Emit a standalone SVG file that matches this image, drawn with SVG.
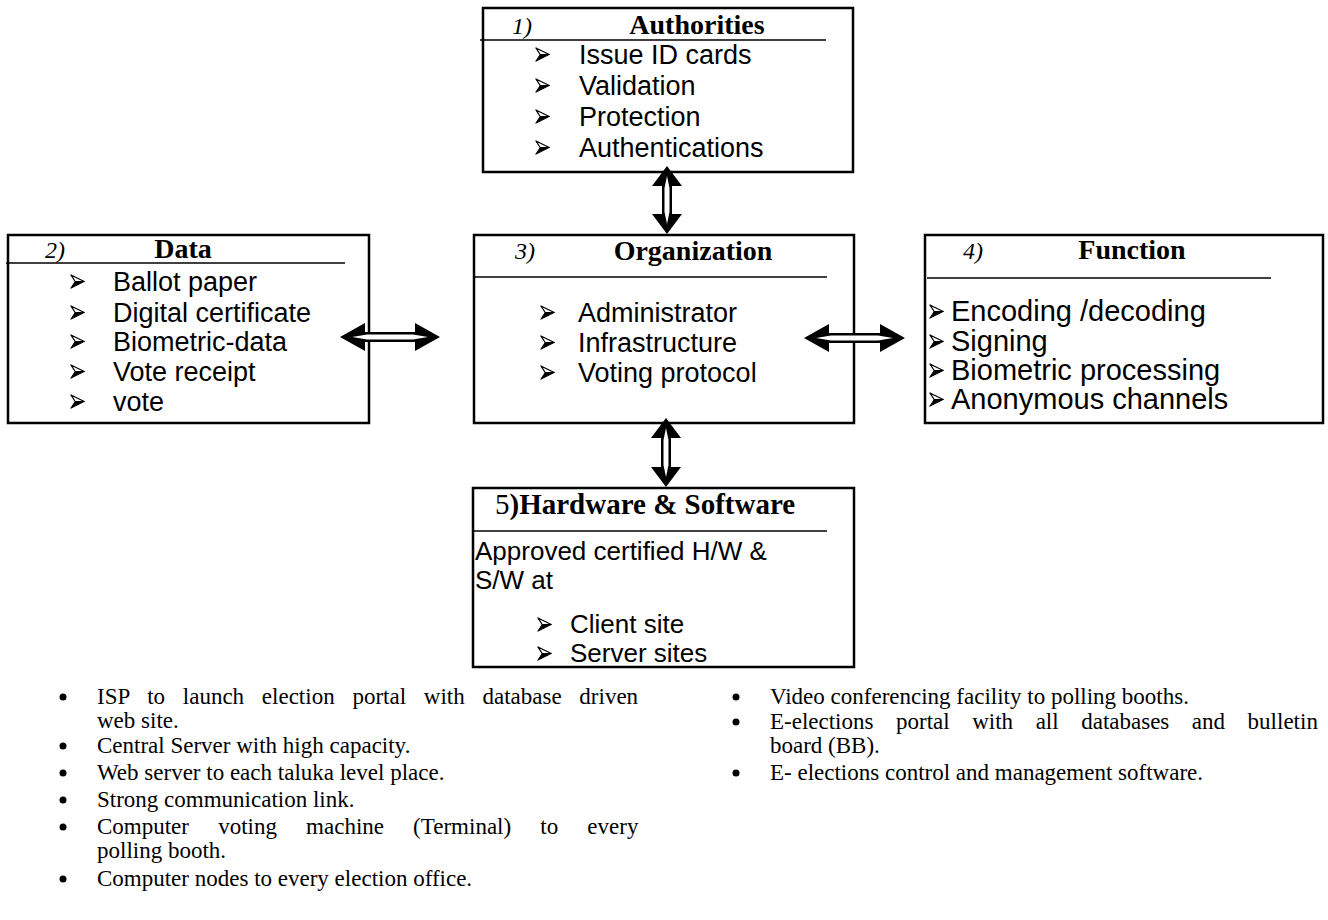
<svg xmlns="http://www.w3.org/2000/svg" width="1328" height="920" viewBox="0 0 1328 920">
  <style>
    .box { fill: #fff; stroke: #000; stroke-width: 2.5; }
    .rule { stroke: #000; stroke-width: 1.5; }
    .num { font-family: "Liberation Serif", "Times New Roman", serif; font-style: italic; font-size: 24px; fill: #000; }
    .title { font-family: "Liberation Serif", "Times New Roman", serif; font-weight: bold; font-size: 28px; fill: #000; }
    .item { font-family: "Liberation Sans", Arial, sans-serif; font-size: 27px; fill: #000; }
    .item-sm { font-family: "Liberation Sans", Arial, sans-serif; font-size: 26px; fill: #000; }
    .item-lg { font-family: "Liberation Sans", Arial, sans-serif; font-size: 29px; fill: #000; }
    .note { font-family: "Liberation Serif", "Times New Roman", serif; font-size: 23px; fill: #000; }
    .dot { fill: #000; }
    .arr { fill: #000; }
    .arr-in { fill: #fff; }
  </style>
  <defs>
    <!-- arrowhead list marker: open upper half, solid lower half -->
    <symbol id="ah" viewBox="0 0 16 16">
      <path d="M1,1 L15.2,8 L5.5,8 Z" fill="#fff" stroke="#000" stroke-width="1.3" stroke-linejoin="round"/>
      <path d="M0.8,15.2 L15.2,8 L5.5,8 Z" fill="#000" stroke="#000" stroke-width="1" stroke-linejoin="round"/>
    </symbol>
  </defs>

  <!-- 1) Authorities -->
  <g id="authorities">
    <rect class="box" x="483" y="8" width="370" height="164"/>
    <line class="rule" x1="480" y1="40" x2="826" y2="40"/>
    <text class="num" x="512" y="34">1)</text>
    <text class="title" x="697" y="34" text-anchor="middle">Authorities</text>
    <use href="#ah" x="535" y="47" width="15" height="15"/><text class="item" x="579" y="64">Issue ID cards</text>
    <use href="#ah" x="535" y="78" width="15" height="15"/><text class="item" x="579" y="95">Validation</text>
    <use href="#ah" x="535" y="109" width="15" height="15"/><text class="item" x="579" y="126">Protection</text>
    <use href="#ah" x="535" y="140" width="15" height="15"/><text class="item" x="579" y="157">Authentications</text>
  </g>

  <!-- 2) Data -->
  <g id="data">
    <rect class="box" x="8" y="235" width="361" height="188"/>
    <line class="rule" x1="6" y1="263" x2="345" y2="263"/>
    <text class="num" x="45" y="258">2)</text>
    <text class="title" x="183" y="258" text-anchor="middle">Data</text>
    <use href="#ah" x="70" y="274" width="15" height="15"/><text class="item" x="113" y="291">Ballot paper</text>
    <use href="#ah" x="70" y="305" width="15" height="15"/><text class="item" x="113" y="322">Digital certificate</text>
    <use href="#ah" x="70" y="334" width="15" height="15"/><text class="item" x="113" y="351">Biometric-data</text>
    <use href="#ah" x="70" y="364" width="15" height="15"/><text class="item" x="113" y="381">Vote receipt</text>
    <use href="#ah" x="70" y="394" width="15" height="15"/><text class="item" x="113" y="411">vote</text>
  </g>

  <!-- 3) Organization -->
  <g id="organization">
    <rect class="box" x="474" y="235" width="380" height="188"/>
    <line class="rule" x1="474" y1="277" x2="827" y2="277"/>
    <text class="num" x="515" y="259">3)</text>
    <text class="title" x="693" y="260" text-anchor="middle">Organization</text>
    <use href="#ah" x="540" y="305" width="15" height="15"/><text class="item" x="578" y="322">Administrator</text>
    <use href="#ah" x="540" y="335" width="15" height="15"/><text class="item" x="578" y="352">Infrastructure</text>
    <use href="#ah" x="540" y="365" width="15" height="15"/><text class="item" x="578" y="382">Voting protocol</text>
  </g>

  <!-- 4) Function -->
  <g id="function">
    <rect class="box" x="925" y="235" width="398" height="188"/>
    <line class="rule" x1="927" y1="278" x2="1271" y2="278"/>
    <text class="num" x="963" y="259">4)</text>
    <text class="title" x="1132" y="259" text-anchor="middle">Function</text>
    <use href="#ah" x="929" y="304" width="15" height="15"/><text class="item-lg" x="951" y="321">Encoding /decoding</text>
    <use href="#ah" x="929" y="334" width="15" height="15"/><text class="item-lg" x="951" y="351">Signing</text>
    <use href="#ah" x="929" y="363" width="15" height="15"/><text class="item-lg" x="951" y="380">Biometric processing</text>
    <use href="#ah" x="929" y="392" width="15" height="15"/><text class="item-lg" x="951" y="409">Anonymous channels</text>
  </g>

  <!-- 5) Hardware & Software -->
  <g id="hardware-software">
    <rect class="box" x="473" y="488" width="381" height="179"/>
    <line class="rule" x1="473" y1="531" x2="827" y2="531"/>
    <text x="495" y="514"><tspan class="note" style="font-size:29px">5</tspan><tspan class="title" style="font-size:29px">)Hardware &amp; Software</tspan></text>
    <text class="item-sm" x="475" y="560">Approved certified H/W &amp;</text>
    <text class="item-sm" x="475" y="589">S/W at</text>
    <use href="#ah" x="537" y="617" width="15" height="15"/><text class="item-sm" x="570" y="633">Client  site</text>
    <use href="#ah" x="537" y="646" width="15" height="15"/><text class="item-sm" x="570" y="662">Server sites</text>
  </g>

  <!-- double-headed block arrows between the boxes -->
  <g id="connectors">
    <!-- Authorities <-> Organization -->
    <path class="arr" d="M667,166 L682,186 L672,186 L672,214 L682,214 L667,234 L652,214 L662,214 L662,186 L652,186 Z"/>
    <path class="arr-in" d="M667,176 L669.5,188 L669.5,212 L667,224 L664.5,212 L664.5,188 Z"/>
    <!-- Organization <-> Hardware & Software -->
    <path class="arr" d="M666,418 L681,438 L671,438 L671,467 L681,467 L666,487 L651,467 L661,467 L661,438 L651,438 Z"/>
    <path class="arr-in" d="M666,428 L668.5,440 L668.5,465 L666,477 L663.5,465 L663.5,440 Z"/>
    <!-- Data <-> Organization -->
    <path class="arr" d="M340,337 L365,323 L365,332 L415,332 L415,323 L440,337 L415,351 L415,342 L365,342 L365,351 Z"/>
    <path class="arr-in" d="M352,337 L367,334.5 L413,334.5 L428,337 L413,339.5 L367,339.5 Z"/>
    <!-- Organization <-> Function -->
    <path class="arr" d="M804,338 L829,324 L829,333 L880,333 L880,324 L905,338 L880,352 L880,343 L829,343 L829,352 Z"/>
    <path class="arr-in" d="M816,338 L831,335.5 L878,335.5 L893,338 L878,340.5 L831,340.5 Z"/>
  </g>

  <!-- notes below the diagram, left column -->
  <g id="notes-left">
    <circle class="dot" cx="63" cy="697" r="3.5"/>
    <text class="note" x="97" y="704" word-spacing="12">ISP to launch election portal with database driven</text>
    <text class="note" x="97" y="728">web site.</text>
    <circle class="dot" cx="63" cy="746" r="3.5"/>
    <text class="note" x="97" y="753">Central Server with high capacity.</text>
    <circle class="dot" cx="63" cy="773" r="3.5"/>
    <text class="note" x="97" y="780">Web server to each taluka level place.</text>
    <circle class="dot" cx="63" cy="800" r="3.5"/>
    <text class="note" x="97" y="807">Strong communication link.</text>
    <circle class="dot" cx="63" cy="827" r="3.5"/>
    <text class="note" x="97" y="834" word-spacing="23.4">Computer voting machine (Terminal) to every</text>
    <text class="note" x="97" y="858">polling booth.</text>
    <circle class="dot" cx="63" cy="879" r="3.5"/>
    <text class="note" x="97" y="886">Computer nodes to every election office.</text>
  </g>

  <!-- notes below the diagram, right column -->
  <g id="notes-right">
    <circle class="dot" cx="736" cy="697" r="3.5"/>
    <text class="note" x="770" y="704">Video conferencing facility to polling booths.</text>
    <circle class="dot" cx="736" cy="722" r="3.5"/>
    <text class="note" x="770" y="729" word-spacing="16.8">E-elections portal with all databases and bulletin</text>
    <text class="note" x="770" y="753">board (BB).</text>
    <circle class="dot" cx="736" cy="773" r="3.5"/>
    <text class="note" x="770" y="780">E- elections control and management software.</text>
  </g>
</svg>
